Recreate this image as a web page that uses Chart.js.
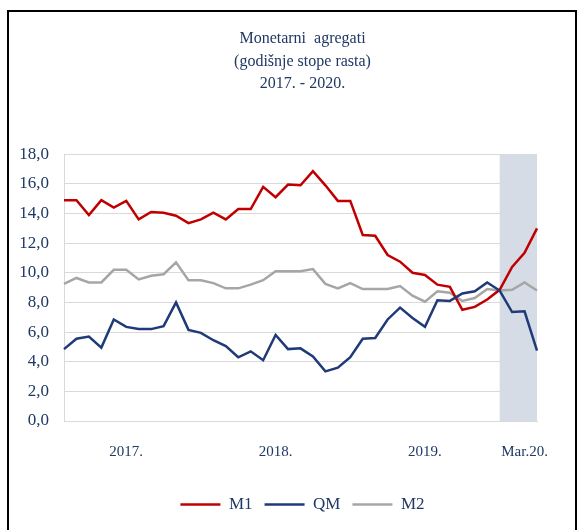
<!DOCTYPE html>
<html>
<head>
<meta charset="utf-8">
<script src="https://cdn.jsdelivr.net/npm/chart.js@4"></script>
<style>
  html, body { margin: 0; padding: 0; background: #fff; }
  #wrap { position: relative; width: 585px; height: 530px; }
  #frame { position: absolute; left: 7px; top: 10px; width: 570px; height: 530px;
           border-left: 2px solid #000; border-top: 2px solid #000; border-right: 2px solid #000;
           pointer-events: none; box-sizing: border-box; }
</style>
</head>
<body>
<div id="wrap">
  <canvas id="chart" width="585" height="530"></canvas>
  <div id="frame"></div>
</div>
<script>
// --- data ---
const months = [
  'Jan.17','Feb.17','Mar.17','Apr.17','May.17','Jun.17','Jul.17','Aug.17','Sep.17','Oct.17','Nov.17','Dec.17',
  'Jan.18','Feb.18','Mar.18','Apr.18','May.18','Jun.18','Jul.18','Aug.18','Sep.18','Oct.18','Nov.18','Dec.18',
  'Jan.19','Feb.19','Mar.19','Apr.19','May.19','Jun.19','Jul.19','Aug.19','Sep.19','Oct.19','Nov.19','Dec.19',
  'Jan.20','Feb.20','Mar.20'
];
const m1 = [14.9,14.9,13.9,14.9,14.4,14.85,13.6,14.1,14.05,13.85,13.35,13.6,14.05,13.6,14.3,14.3,15.8,15.1,15.95,15.9,
            16.85,15.9,14.85,14.85,12.55,12.5,11.2,10.75,10.0,9.85,9.2,9.05,7.5,7.7,8.2,8.85,10.4,11.35,13.0];
const qm = [4.85,5.55,5.7,4.95,6.85,6.35,6.2,6.2,6.4,8.0,6.15,5.95,5.45,5.05,4.3,4.7,4.1,5.8,4.85,4.9,
            4.35,3.35,3.6,4.3,5.55,5.6,6.85,7.65,6.95,6.35,8.15,8.1,8.6,8.75,9.35,8.8,7.35,7.4,4.75];
const m2 = [9.25,9.65,9.35,9.35,10.2,10.2,9.55,9.8,9.9,10.7,9.5,9.5,9.3,8.95,8.95,9.2,9.5,10.1,10.1,10.1,
            10.25,9.25,8.95,9.3,8.9,8.9,8.9,9.1,8.45,8.05,8.75,8.65,8.1,8.3,8.9,8.8,8.85,9.35,8.8];
const tickIndex = [5, 17, 29, 37];
const tickText = ['2017.', '2018.', '2019.', 'Mar.20.'];
const shadeFrom = 'Dec.19';

const textColor = '#1F3864';
const serif = "'Liberation Serif', 'Times New Roman', serif";

// shaded band for the latest months
const shadePlugin = {
  id: 'shade',
  beforeDatasetsDraw(chart) {
    const { ctx, chartArea, scales } = chart;
    const x0 = scales.x.getPixelForValue(months.indexOf(shadeFrom));
    ctx.save();
    ctx.fillStyle = '#D6DCE5';
    ctx.fillRect(x0, chartArea.top, chartArea.right - x0, chartArea.bottom - chartArea.top);
    ctx.restore();
  }
};

const lineDs = (label, data, color, order) => ({
  label, data, borderColor: color, backgroundColor: color,
  borderWidth: 2.5, pointRadius: 0, tension: 0, order,
  pointStyle: 'line'
});

new Chart(document.getElementById('chart'), {
  type: 'line',
  data: {
    labels: months,
    datasets: [
      lineDs('M1', m1, '#C00000', 2),
      lineDs('QM', qm, '#1F3A78', 1),
      lineDs('M2', m2, '#A6A6A6', 3),
    ]
  },
  plugins: [shadePlugin],
  options: {
    responsive: false,
    animation: false,
    layout: { padding: { top: 17, left: 20, right: 0, bottom: 7 } },
    plugins: {
      title: {
        display: true,
        text: ['Monetarni  agregati', '(godišnje stope rasta)', '2017. - 2020.'],
        color: textColor,
        font: { family: serif, size: 16, weight: 'normal', lineHeight: 1.4 },
        padding: { top: 11, bottom: 59 }
      },
      legend: {
        position: 'bottom',
        labels: {
          usePointStyle: true, pointStyleWidth: 40,
          color: textColor, padding: 12,
          font: { family: serif, size: 17 },
          sort: (a, b) => a.datasetIndex - b.datasetIndex
        }
      },
      tooltip: { enabled: false }
    },
    scales: {
      x: {
        grid: { display: false },
        border: { display: true, color: '#D9D9D9' },
        ticks: {
          autoSkip: false, maxRotation: 0, padding: 14,
          color: textColor, font: { family: serif, size: 15 },
          callback: (v, i) => { const k = tickIndex.indexOf(i); return k >= 0 ? tickText[k] : ''; }
        },
        afterFit: s => { s.height = 63; }
      },
      y: {
        min: 0, max: 18,
        grid: { color: '#D9D9D9', drawTicks: false },
        border: { display: true, color: '#D9D9D9' },
        ticks: {
          stepSize: 2, padding: 15, color: textColor,
          font: { family: serif, size: 17 },
          callback: v => v.toFixed(1).replace('.', ',')
        },
        afterFit: s => { s.width = 44; }
      },
      yRight: {
        position: 'right',
        grid: { display: false },
        border: { display: false },
        ticks: { display: false },
        afterFit: s => { s.width = 48; }
      }
    }
  }
});
</script>
</body>
</html>
